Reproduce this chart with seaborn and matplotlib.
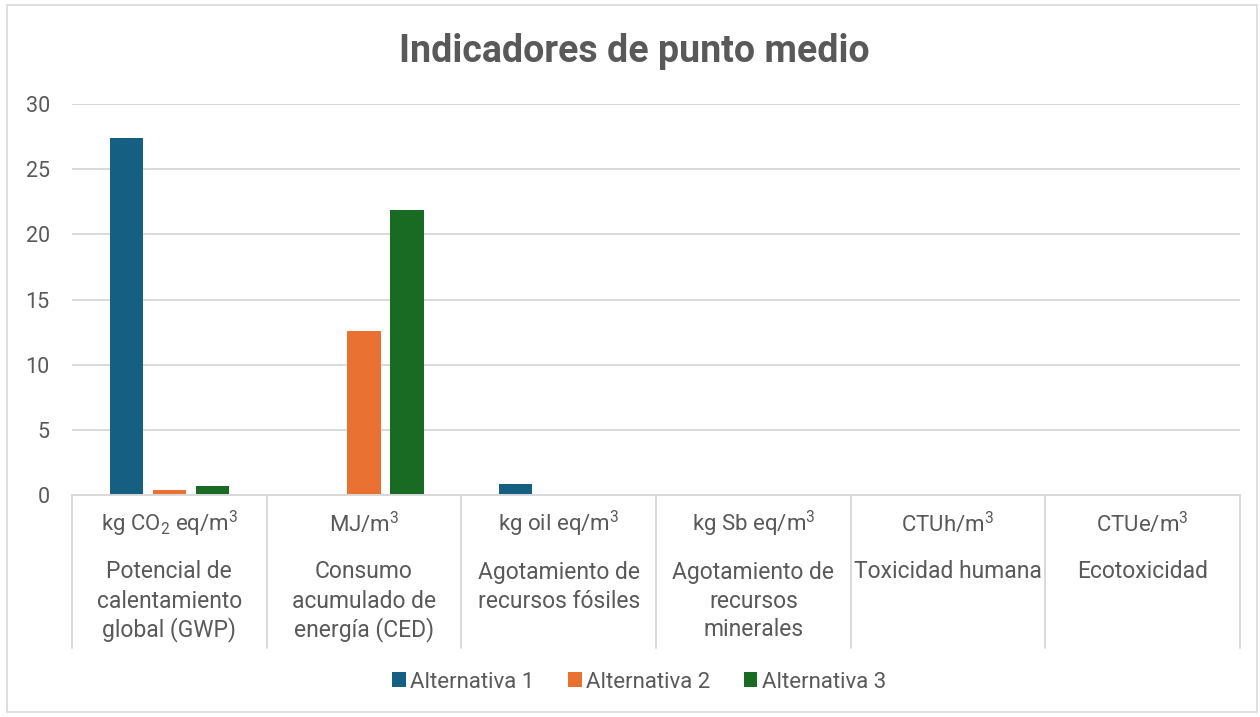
import matplotlib
matplotlib.use("Agg")
import matplotlib.pyplot as plt
import matplotlib.transforms as mtransforms
from matplotlib.patches import Rectangle
import seaborn as sns
import pandas as pd

# ---- data ----
categories = ["GWP", "CED", "Fosiles", "Minerales", "ToxH", "EcoTox"]
units = [r"kg CO$_\mathregular{2}$ eq/m$^\mathregular{3}$",
         r"MJ/m$^\mathregular{3}$",
         r"kg oil eq/m$^\mathregular{3}$",
         r"kg Sb eq/m$^\mathregular{3}$",
         r"CTUh/m$^\mathregular{3}$",
         r"CTUe/m$^\mathregular{3}$"]
names = [["Potencial de", "calentamiento", "global (GWP)"],
         ["Consumo", "acumulado de", "energía (CED)"],
         ["Agotamiento de", "recursos fósiles"],
         ["Agotamiento de", "recursos", "minerales"],
         ["Toxicidad humana"],
         ["Ecotoxicidad"]]
series = ["Alternativa 1", "Alternativa 2", "Alternativa 3"]
alt1 = [27.4, 0.0, 0.85, 0.0, 0.0, 0.0]
alt2 = [0.4, 12.6, 0.0, 0.0, 0.0, 0.0]
alt3 = [0.7, 21.9, 0.0, 0.0, 0.0, 0.0]
colors = ["#156082", "#E97132", "#196B24"]
yticks = [0, 5, 10, 15, 20, 25, 30]
title = "Indicadores de punto medio"

rows = []
for s, vals in zip(series, [alt1, alt2, alt3]):
    for c, v in zip(categories, vals):
        rows.append({"cat": c, "serie": s, "valor": v})
df = pd.DataFrame(rows)

sns.set_theme(style="white")
plt.rcParams["font.family"] = ["Roboto", "DejaVu Sans"]
plt.rcParams["mathtext.fontset"] = "custom"
plt.rcParams["mathtext.rm"] = "Roboto"
plt.rcParams["mathtext.it"] = "Roboto"
plt.rcParams["mathtext.bf"] = "Roboto:bold"

TXT = "#595959"
GRID = "#D9D9D9"
W, H = 1260, 717
fig = plt.figure(figsize=(W / 100, H / 100), dpi=100)
ax = fig.add_axes([72 / W, 1 - 495 / H, (1240 - 72) / W, (495 - 104) / H])

sns.barplot(data=df, x="cat", y="valor", hue="serie", order=categories,
            hue_order=series, palette=colors, saturation=1, width=0.663,
            gap=0.23, linewidth=0, ax=ax, legend=True)

ax.set_ylim(0, 30)
ax.set_xlim(-0.5, len(categories) - 0.5)
ax.set_yticks(yticks)
ax.set_yticklabels([str(t) for t in yticks], color=TXT, fontsize=15.5)
ax.tick_params(axis="y", length=0, pad=16)
ax.set_xticks([])
ax.set_xlabel("")
ax.set_ylabel("")
ax.grid(axis="y", color=GRID, linewidth=1.4)
ax.set_axisbelow(True)
for sp in ["top", "right", "left"]:
    ax.spines[sp].set_visible(False)
ax.spines["bottom"].set_color(GRID)
ax.spines["bottom"].set_linewidth(1.4)

# category label area
ax_h = 495 - 104
trans = mtransforms.blended_transform_factory(ax.transData, ax.transAxes)
def yf(py):
    return -(py - 495) / ax_h
for i in range(len(categories) + 1):
    ax.plot([i - 0.5, i - 0.5], [0, yf(648)], transform=trans, color=GRID,
            linewidth=1.4, clip_on=False)
for i, (u, nm) in enumerate(zip(units, names)):
    ax.text(i, yf(524), u, transform=trans, ha="center", va="center",
            fontsize=16, color=TXT)
    for k, line in enumerate(nm):
        ax.text(i, yf(572 + 29 * k), line, transform=trans, ha="center",
                va="center", fontsize=16.5, color=TXT)

# legend
handles, labels = ax.get_legend_handles_labels()
ax.legend_.remove()
fig.legend(handles, labels, loc="center", bbox_to_anchor=(639 / W, 1 - 682 / H),
           ncol=3, frameon=False, fontsize=16, handlelength=0.62,
           handleheight=0.62, handletextpad=0.2, columnspacing=1.5,
           labelcolor=TXT)

fig.text(634 / W, 1 - 62 / H, title, ha="center", va="baseline", fontsize=27,
         fontweight="bold", color=TXT)

fig.patches.append(Rectangle((7 / W, 1 - 712 / H), (1257 - 7) / W, (712 - 5) / H,
                             transform=fig.transFigure, fill=False,
                             edgecolor=GRID, linewidth=1.2))

fig.savefig("out.png", dpi=100)
